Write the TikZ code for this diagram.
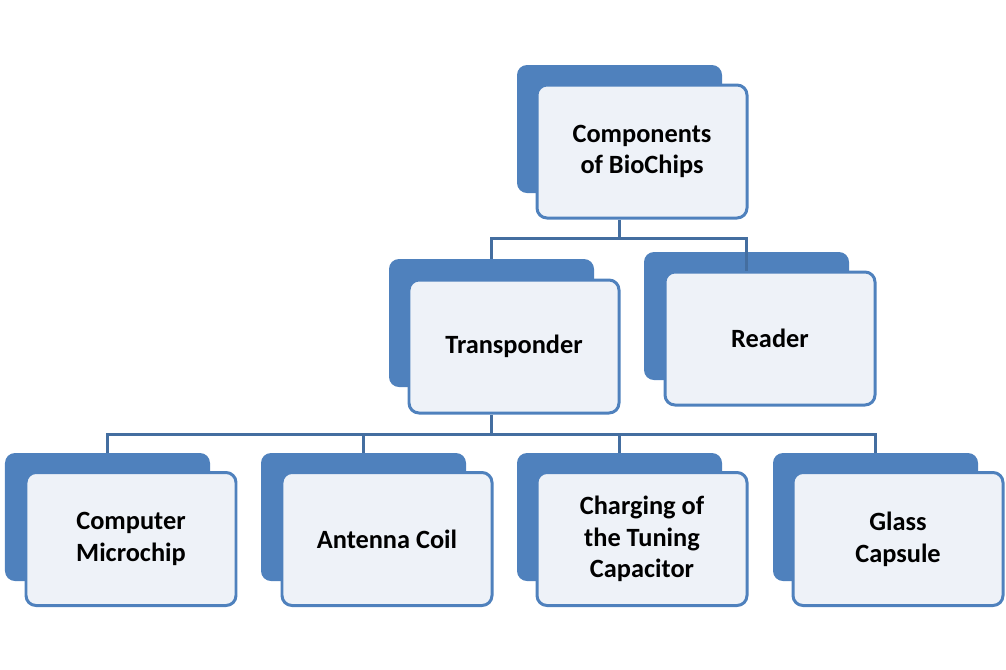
\documentclass[tikz,border=0pt]{standalone}
\usepackage{fontspec}
\setmainfont{Carlito}
\usetikzlibrary{positioning}
\definecolor{boxblue}{RGB}{79,129,189}
\definecolor{boxpale}{RGB}{238,242,248}
\definecolor{linkblue}{RGB}{68,110,160}
\begin{document}
\begin{tikzpicture}[
  back/.style={fill=boxblue, rounded corners=0.2cm, minimum width=4.1cm, minimum height=2.56cm},
  front/.style={draw=boxblue, line width=1.7pt, fill=boxpale, rounded corners=0.2cm,
    minimum width=4.2cm, minimum height=2.66cm, align=center,
    font=\fontsize{15}{18}\selectfont\bfseries},
  link/.style={draw=linkblue, line width=1.6pt}]
\useasboundingbox (0,0) rectangle (20.12,-13.38);
% boxes
\node[back] (topD) at (12.39,-2.58) {};
\node[front] (topL) at (12.84,-3.03) {Components\\of BioChips};
\node[back] (transD) at (9.83,-6.46) {};
\node[front] (transL) at (10.28,-6.93) {Transponder};
\node[back] (readD) at (14.93,-6.32) {};
\node[front] (readL) at (15.40,-6.77) {Reader};
\node[back] (chipD) at (2.15,-10.34) {};
\node[front] (chipL) at (2.62,-10.78) {Computer\\Microchip};
\node[back] (coilD) at (7.27,-10.34) {};
\node[front] (coilL) at (7.74,-10.78) {Antenna Coil};
\node[back] (capD) at (12.39,-10.34) {};
\node[front] (capL) at (12.84,-10.78) {Charging of\\the Tuning\\Capacitor};
\node[back] (glassD) at (17.51,-10.34) {};
\node[front] (glassL) at (17.96,-10.78) {Glass\\Capsule};
% connectors
\coordinate (topJ) at ([yshift=-0.38cm]topD |- topL.south);
\draw[link] (topD |- topL.south) -- (topJ) -| (transD.north);
\draw[link] (topJ) -| (readD |- readL.north);
\coordinate (transJ) at ([yshift=-0.4cm]transD |- transL.south);
\draw[link] (transD |- transL.south) -- (transJ);
\draw[link] (transJ) -| (chipD.north);
\draw[link] (transJ) -| (coilD.north);
\draw[link] (transJ) -| (capD.north);
\draw[link] (transJ) -| (glassD.north);
\end{tikzpicture}
\end{document}
